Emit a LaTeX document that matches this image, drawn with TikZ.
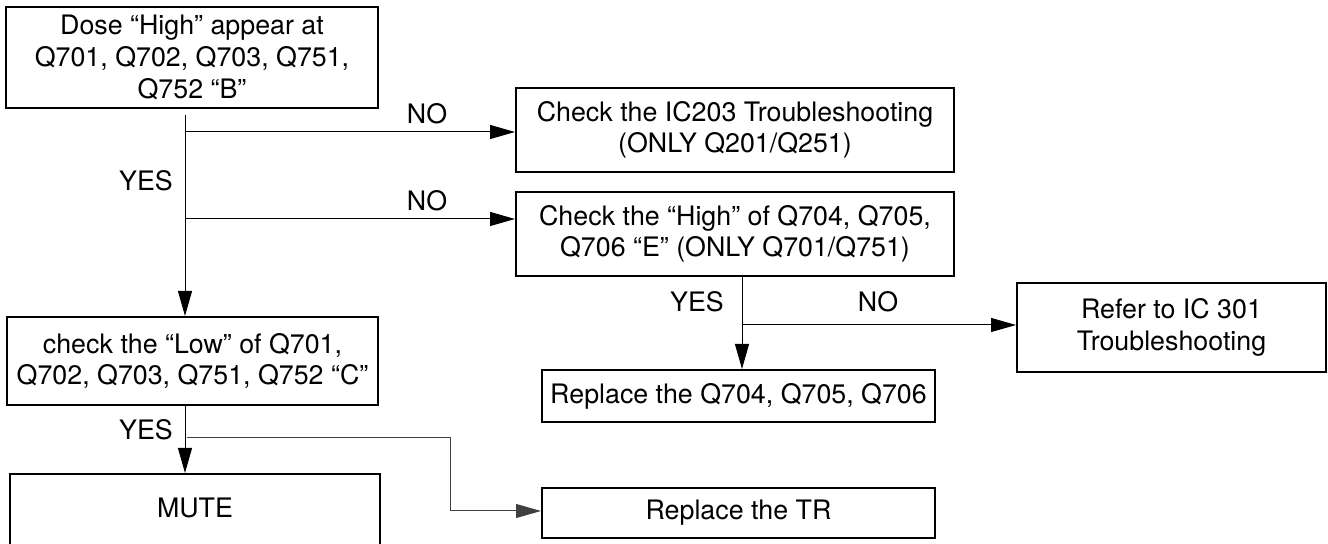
\documentclass[tikz,border=0pt]{standalone}
\usepackage{fontspec}
\setmainfont{TeX Gyre Heros}
\usetikzlibrary{arrows.meta}
\begin{document}
\begin{tikzpicture}[x=0.5pt,y=-0.5pt,
  box/.style={draw, line width=1pt, align=center, inner sep=0pt, font=\fontsize{13.4}{15.8}\selectfont},
  conn/.style={line width=0.5pt},
  arr/.style={conn, -{Triangle[length=12.5pt,width=7pt]}},
  lbl/.style={font=\fontsize{13.4}{15.8}\selectfont, inner sep=0pt}]
\useasboundingbox (0,0) rectangle (1328,544);
% boxes
\node[box, minimum width=186pt, minimum height=50.5pt] (b1) at (192,57.5)
  {Dose “High” appear at\\Q701, Q702, Q703, Q751,\\Q752 “B”};
\node[box, minimum width=219pt, minimum height=42pt] (b2) at (735,130)
  {Check the IC203 Troubleshooting\\(ONLY Q201/Q251)};
\node[box, minimum width=219pt, minimum height=42pt] (b3) at (735,234)
  {Check the “High” of Q704, Q705,\\Q706 “E” (ONLY Q701/Q751)};
\node[box, minimum width=196.5pt, minimum height=26pt] (b4) at (738.5,396)
  {Replace the Q704, Q705, Q706};
\node[box, minimum width=154.5pt, minimum height=44.5pt] (b5) at (1171.5,327.5)
  {Refer to IC 301\\Troubleshooting};
\node[box, minimum width=185.5pt, minimum height=44pt] (b6) at (192.5,361)
  {check the “Low” of Q701,\\Q702, Q703, Q751, Q752 “C”};
\node[box, anchor=north, minimum width=185pt, text height=21.65pt, text depth=21.85pt] (b7) at (195,473)
  {MUTE};
\node[box, minimum width=196.5pt, minimum height=25pt] (b8) at (738.5,513)
  {Replace the TR};
% connector points
\coordinate (t0) at (185,115);
\coordinate (j1) at (185,132);
\coordinate (j2) at (185,219);
\coordinate (s3) at (742,276);
\coordinate (j3) at (743,325);
\coordinate (j4) at (187,438);
\coordinate (k4) at (450,438);
\coordinate (k5) at (450,511);
% connectors
\draw[arr] (t0) -- (t0 |- b6.north);
\draw[arr] (j1) -- (j1 -| b2.west);
\draw[arr] (j2) -- (j2 -| b3.west);
\draw[arr] (s3 |- b3.south) -- (s3 |- b4.north);
\draw[arr] (j3) -- (j3 -| b5.west);
\draw[arr] (t0 |- b6.south) -- (t0 |- b7.north);
\draw[arr, draw=black!75] (j4) -- (k4) -- (k5) -- (k5 -| b8.west);
% labels
\node[lbl] (n1) at (427,114) {NO};
\node[lbl] (n2) at (427,201) {NO};
\node[lbl] (y1) at (146,181) {YES};
\node[lbl] (y2) at (697,302) {YES};
\node[lbl] (n3) at (878,302) {NO};
\node[lbl] (y3) at (146,430) {YES};
\end{tikzpicture}
\end{document}
